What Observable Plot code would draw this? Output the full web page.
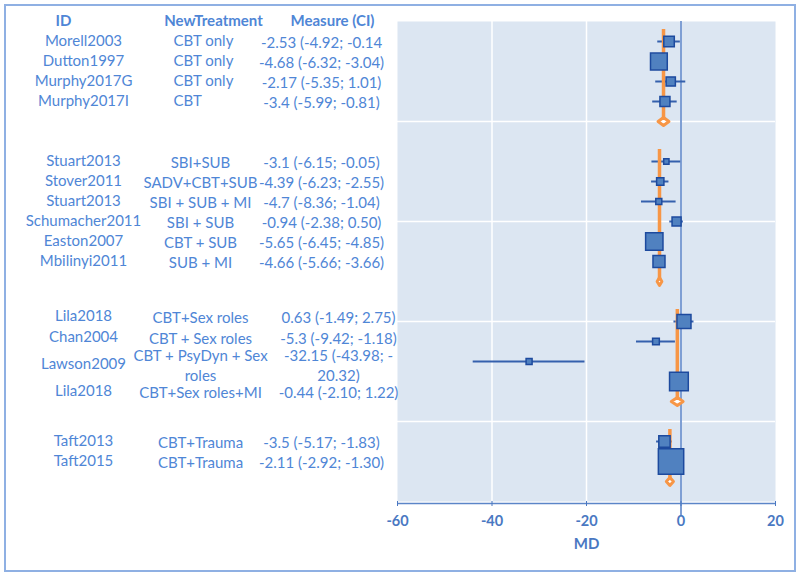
<!DOCTYPE html>
<html>
<head>
<meta charset="utf-8">
<script src="https://cdn.jsdelivr.net/npm/d3@7"></script>
<script src="https://cdn.jsdelivr.net/npm/@observablehq/plot@0.6"></script>
<style>
  html, body { margin: 0; padding: 0; background: #fff; }
  #wrap { position: relative; width: 800px; height: 578px; }
  #border { position: absolute; left: 4px; top: 4px; width: 788px; height: 564px;
            border: 2px solid #8fb0e3; pointer-events: none; }
  svg { overflow: visible; }
</style>
</head>
<body>
<div id="wrap"><div id="border"></div></div>
<script>
// ---- data ----
const ids = ["Morell2003","Dutton1997","Murphy2017G","Murphy2017I",
  "Stuart2013","Stover2011","Stuart2013","Schumacher2011","Easton2007","Mbilinyi2011",
  "Lila2018","Chan2004","Lawson2009","Lila2018",
  "Taft2013","Taft2015"];
const treatments = ["CBT only","CBT only","CBT only","CBT",
  "SBI+SUB","SADV+CBT+SUB","SBI + SUB + MI","SBI + SUB","CBT + SUB","SUB + MI",
  "CBT+Sex roles","CBT + Sex roles","CBT + PsyDyn + Sex\nroles","CBT+Sex roles+MI",
  "CBT+Trauma","CBT+Trauma"];
const measures = ["-2.53 (-4.92; -0.14","-4.68 (-6.32; -3.04)","-2.17 (-5.35; 1.01)","-3.4 (-5.99; -0.81)",
  "-3.1 (-6.15; -0.05)","-4.39 (-6.23; -2.55)","-4.7 (-8.36; -1.04)","-0.94 (-2.38; 0.50)","-5.65 (-6.45; -4.85)","-4.66 (-5.66; -3.66)",
  "0.63 (-1.49; 2.75)","-5.3 (-9.42; -1.18)","-32.15 (-43.98; -\n20.32)","-0.44 (-2.10; 1.22)",
  "-3.5 (-5.17; -1.83)","-2.11 (-2.92; -1.30)"];
const estimates = [-2.53,-4.68,-2.17,-3.4, -3.1,-4.39,-4.7,-0.94,-5.65,-4.66, 0.63,-5.3,-32.15,-0.44, -3.5,-2.11];
const lower     = [-4.92,-6.32,-5.35,-5.99, -6.15,-6.23,-8.36,-2.38,-6.45,-5.66, -1.49,-9.42,-43.98,-2.10, -5.17,-2.92];
const upper     = [-0.14,-3.04,1.01,-0.81, -0.05,-2.55,-1.04,0.50,-4.85,-3.66, 2.75,-1.18,-20.32,1.22, -1.83,-1.30];
const weights   = [110,280,85,100, 28,53,36,81,300,144, 196,45,36,350, 128,640];
const groupSizes = [4,6,4,2];
// pooled (subgroup) estimates
const pooledEst = [-3.7,-4.55,-0.78,-2.35];
const pooledLo  = [-4.85,-5.05,-2.05,-3.1];
const pooledHi  = [-2.55,-4.05,0.45,-1.6];
const xTicks = [-60,-40,-20,0,20];

// ---- build tables ----
const studies = [];
const pooled = [];
let start = 1, k = 0;
groupSizes.forEach((n, g) => {
  for (let j = 0; j < n; j++, k++) {
    studies.push({i: k, g, row: start + j, id: ids[k], trt: treatments[k], meas: measures[k],
      est: estimates[k], lo: lower[k], hi: upper[k], w: weights[k]});
  }
  pooled.push({g, first: start, row: start + n, est: pooledEst[g], lo: pooledLo[g], hi: pooledHi[g]});
  start += n + 2;
});
const diamondPts = pooled.flatMap(p => [
  {g: p.g, x: p.lo, y: p.row}, {g: p.g, x: p.est, y: p.row - 0.2},
  {g: p.g, x: p.hi, y: p.row}, {g: p.g, x: p.est, y: p.row + 0.2},
  {g: p.g, x: p.lo, y: p.row}
]);

// layout (pixels) for the text table
const textNudge = {10: -5, 11: -4, 12: 3, 13: 10};
const ty = d => d.row + (textNudge[d.i] || 0) / 20;
const txtColor = "#4f86d6";
const font = 15;
const measX = g => (g === 2 ? -59 : -76);

const marks = [
  Plot.frame({fill: "#dce6f2", stroke: null}),
  Plot.ruleX([-40, -20], {stroke: "white", strokeWidth: 1.5}),
  Plot.ruleY([5, 10, 15, 20], {stroke: "white", strokeWidth: 1.5}),
  Plot.ruleX([0], {stroke: "#7f9fd4", strokeWidth: 2, insetBottom: -14}),
  Plot.ruleY([24], {dy: 2, stroke: "#5b85c8", strokeWidth: 1.5}),
  Plot.axisX({ticks: xTicks, tickSize: 5, tickPadding: 9, fontSize: 14.5, fontWeight: "bold",
    color: "#4a78c2", label: null, tickFormat: d => String(d).replace("−", "-")}),
  Plot.text(["MD"], {frameAnchor: "bottom", dy: 47, fontSize: 15, fontWeight: "bold", fill: "#4a78c2"}),
  Plot.ruleY(studies, {y: "row", x1: "lo", x2: "hi", stroke: "#3560ad", strokeWidth: 2}),
  Plot.ruleX(pooled, {x: "est", y1: d => d.first - 0.6, y2: "row", stroke: "#f79646", strokeWidth: 3.5}),
  Plot.dot(studies, {x: "est", y: "row", r: "w", symbol: "square", fill: "#5081c0", stroke: "#1d4a9e", strokeWidth: 1.5}),
  Plot.line(diamondPts, {x: "x", y: "y", z: "g", fill: "white", stroke: "#f79646", strokeWidth: 3, strokeLinejoin: "round"}),
  // headers
  Plot.text(["ID"], {y: () => 0, frameAnchor: "left", dx: -334, textAnchor: "middle", fontWeight: "bold", fontSize: font, fill: txtColor}),
  Plot.text(["NewTreatment"], {y: () => 0, frameAnchor: "left", dx: -184, textAnchor: "middle", fontWeight: "bold", fontSize: font, fill: txtColor}),
  Plot.text(["Measure (CI)"], {y: () => 0, frameAnchor: "left", dx: -65, textAnchor: "middle", fontWeight: "bold", fontSize: font, fill: txtColor}),
  // ID column
  Plot.text(studies, {y: ty, text: "id", frameAnchor: "left", dx: -314, textAnchor: "middle", fontSize: font, fill: txtColor}),
  // treatment column
  Plot.text(studies.filter(d => d.g === 0), {y: ty, text: "trt", frameAnchor: "left", dx: -224, textAnchor: "start", fontSize: font, fill: txtColor}),
  Plot.text(studies.filter(d => d.g > 0), {y: ty, text: "trt", frameAnchor: "left", dx: -197, textAnchor: "middle", fontSize: font, fill: txtColor, lineHeight: 1.33}),
];
// measure column per group
for (let g = 0; g < groupSizes.length; g++) {
  marks.push(Plot.text(studies.filter(d => d.g === g), {y: ty, text: "meas", frameAnchor: "left", dx: measX(g),
    textAnchor: "middle", fontSize: font, fill: txtColor, lineHeight: 1.33}));
}

const chart = Plot.plot({
  width: 800, height: 578,
  marginLeft: 397, marginRight: 25, marginTop: 21, marginBottom: 77,
  x: {domain: [-60, 20], label: null},
  y: {domain: [0, 24], reverse: true, axis: null},
  r: {domain: [0, 640], range: [0, 14.3]},
  style: {fontFamily: "Lato, 'Open Sans', sans-serif", background: "transparent", overflow: "visible"},
  marks
});
document.getElementById("wrap").prepend(chart);
</script>
</body>
</html>
